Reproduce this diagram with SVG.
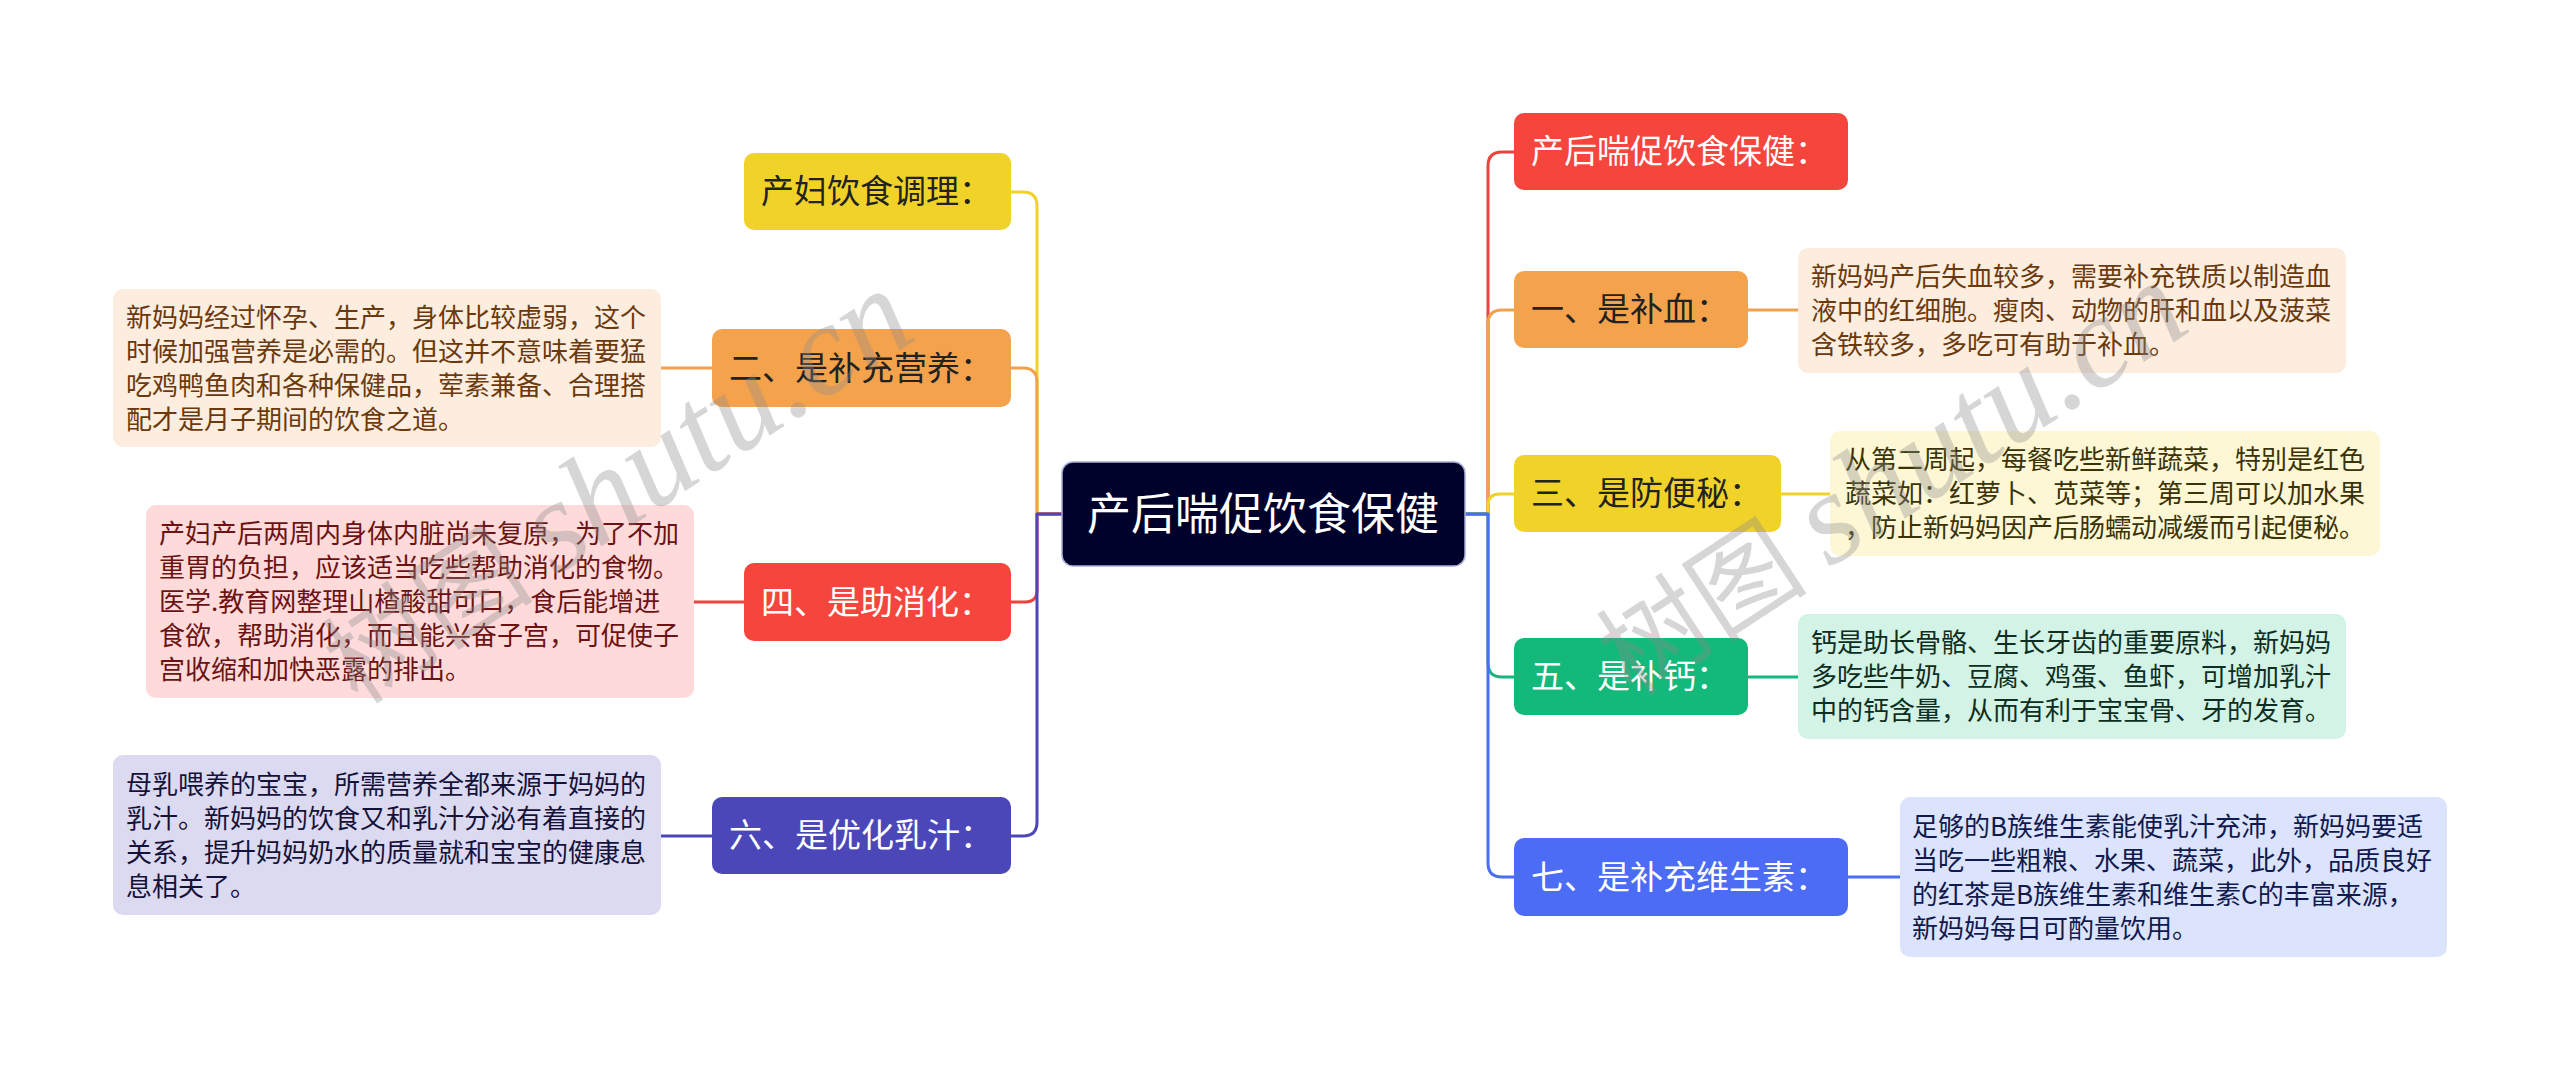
<svg xmlns="http://www.w3.org/2000/svg" width="2560" height="1069" viewBox="0 0 2560 1069">
<style>
text{font-family:"Noto Sans CJK SC","Noto Sans",sans-serif;}
.n{font-size:33px;}
.c{font-size:44px;fill:#ffffff;}
.t{font-size:26px;}
.dk{fill:#222222;}
.wt{fill:#ffffff;}
.ln{fill:none;stroke-width:3;stroke-linecap:round;stroke-linejoin:round;}
.wm{font-size:106px;fill:#8c8c8c;opacity:0.35;}
.wms{font-family:"Liberation Serif",serif;font-style:italic;font-size:130px;}
</style>
<rect width="2560" height="1069" fill="#ffffff"/>
<g id="connectors">
  <path class="ln" stroke="#F1D229" d="M1062,514 H1037 V206 Q1037,192 1023,192 H1011"/>
  <path class="ln" stroke="#F0A24F" d="M1062,514 H1037 V382 Q1037,368 1023,368 H1011"/>
  <path class="ln" stroke="#E9443E" d="M1062,514 H1037 V590 Q1037,602 1025,602 H1011"/>
  <path class="ln" stroke="#4B47B9" d="M1062,514 H1037 V822 Q1037,836 1023,836 H1011"/>
  <path class="ln" stroke="#F0A24F" d="M661,368 H712"/>
  <path class="ln" stroke="#E9443E" d="M694,602 H744"/>
  <path class="ln" stroke="#4B47B9" d="M661,836 H712"/>
  <path class="ln" stroke="#E9443E" d="M1465,514 H1488 V166 Q1488,152 1502,152 H1514"/>
  <path class="ln" stroke="#F0A24F" d="M1465,514 H1488 V324 Q1488,310 1502,310 H1514"/>
  <path class="ln" stroke="#F1D229" d="M1465,514 H1488 V505 Q1488,494 1500,494 H1514"/>
  <path class="ln" stroke="#13B87B" d="M1465,514 H1488 V663 Q1488,677 1502,677 H1514"/>
  <path class="ln" stroke="#4C6CF5" d="M1465,514 H1488 V863 Q1488,877 1502,877 H1514"/>
  <path class="ln" stroke="#F0A24F" d="M1748,310 H1798"/>
  <path class="ln" stroke="#F1D229" d="M1781,494 H1830"/>
  <path class="ln" stroke="#13B87B" d="M1748,677 H1798"/>
  <path class="ln" stroke="#4C6CF5" d="M1848,877 H1900"/>
</g>
<g id="center">
  <rect x="1062" y="462" width="403" height="104" rx="11" fill="#01022B" stroke="#aab0d6" stroke-width="1.5"/>
  <text class="c" x="1087" y="530">产后喘促饮食保健</text>
</g>
<g id="node-L0">
  <rect x="744" y="153" width="267" height="77" rx="10" fill="#F1D229"/>
  <text class="n dk" x="761" y="203">产妇饮食调理：</text>
</g>
<g id="node-L1">
  <rect x="712" y="329" width="299" height="78" rx="10" fill="#F5A24C"/>
  <text class="n dk" x="729" y="380">二、是补充营养：</text>
</g>
<g id="text-L1">
  <rect x="113" y="289" width="548" height="158" rx="10" fill="#FDEDDE"/>
  <text class="t" fill="#6A3A0E"><tspan x="126" y="327">新妈妈经过怀孕、生产，身体比较虚弱，这个</tspan><tspan x="126" y="361">时候加强营养是必需的。但这并不意味着要猛</tspan><tspan x="126" y="395">吃鸡鸭鱼肉和各种保健品，荤素兼备、合理搭</tspan><tspan x="126" y="429">配才是月子期间的饮食之道。</tspan></text>
</g>
<g id="node-L2">
  <rect x="744" y="563" width="267" height="78" rx="10" fill="#F5453D"/>
  <text class="n wt" x="761" y="614">四、是助消化：</text>
</g>
<g id="text-L2">
  <rect x="146" y="505" width="548" height="193" rx="10" fill="#FEDADA"/>
  <text class="t" fill="#6B1212"><tspan x="159" y="543">产妇产后两周内身体内脏尚未复原，为了不加</tspan><tspan x="159" y="577">重胃的负担，应该适当吃些帮助消化的食物。</tspan><tspan x="159" y="611">医学.教育网整理山楂酸甜可口，食后能增进</tspan><tspan x="159" y="645">食欲，帮助消化，而且能兴奋子宫，可促使子</tspan><tspan x="159" y="679">宫收缩和加快恶露的排出。</tspan></text>
</g>
<g id="node-L3">
  <rect x="712" y="797" width="299" height="77" rx="10" fill="#4B47B9"/>
  <text class="n wt" x="729" y="847">六、是优化乳汁：</text>
</g>
<g id="text-L3">
  <rect x="113" y="755" width="548" height="160" rx="10" fill="#DCDAF1"/>
  <text class="t" fill="#15123A"><tspan x="126" y="794">母乳喂养的宝宝，所需营养全都来源于妈妈的</tspan><tspan x="126" y="828">乳汁。新妈妈的饮食又和乳汁分泌有着直接的</tspan><tspan x="126" y="862">关系，提升妈妈奶水的质量就和宝宝的健康息</tspan><tspan x="126" y="896">息相关了。</tspan></text>
</g>
<g id="node-R0">
  <rect x="1514" y="113" width="334" height="77" rx="10" fill="#F5453D"/>
  <text class="n wt" x="1531" y="163">产后喘促饮食保健：</text>
</g>
<g id="node-R1">
  <rect x="1514" y="271" width="234" height="77" rx="10" fill="#F5A24C"/>
  <text class="n dk" x="1531" y="321">一、是补血：</text>
</g>
<g id="text-R1">
  <rect x="1798" y="248" width="548" height="125" rx="10" fill="#FDEDDE"/>
  <text class="t" fill="#6A3A0E"><tspan x="1811" y="286">新妈妈产后失血较多，需要补充铁质以制造血</tspan><tspan x="1811" y="320">液中的红细胞。瘦肉、动物的肝和血以及菠菜</tspan><tspan x="1811" y="354">含铁较多，多吃可有助于补血。</tspan></text>
</g>
<g id="node-R2">
  <rect x="1514" y="455" width="267" height="77" rx="10" fill="#F1D229"/>
  <text class="n dk" x="1531" y="505">三、是防便秘：</text>
</g>
<g id="text-R2">
  <rect x="1830" y="431" width="550" height="125" rx="10" fill="#FDF7D6"/>
  <text class="t" fill="#3A3306"><tspan x="1845" y="469">从第二周起，每餐吃些新鲜蔬菜，特别是红色</tspan><tspan x="1845" y="503">蔬菜如：红萝卜、苋菜等；第三周可以加水果</tspan><tspan x="1845" y="537">，防止新妈妈因产后肠蠕动减缓而引起便秘。</tspan></text>
</g>
<g id="node-R3">
  <rect x="1514" y="638" width="234" height="77" rx="10" fill="#13B87B"/>
  <text class="n wt" x="1531" y="688">五、是补钙：</text>
</g>
<g id="text-R3">
  <rect x="1798" y="614" width="548" height="125" rx="10" fill="#D2F3E5"/>
  <text class="t" fill="#0E2E22"><tspan x="1811" y="652">钙是助长骨骼、生长牙齿的重要原料，新妈妈</tspan><tspan x="1811" y="686">多吃些牛奶、豆腐、鸡蛋、鱼虾，可增加乳汁</tspan><tspan x="1811" y="720">中的钙含量，从而有利于宝宝骨、牙的发育。</tspan></text>
</g>
<g id="node-R4">
  <rect x="1514" y="838" width="334" height="78" rx="10" fill="#4C6CF5"/>
  <text class="n wt" x="1531" y="889">七、是补充维生素：</text>
</g>
<g id="text-R4">
  <rect x="1900" y="797" width="547" height="160" rx="10" fill="#DCE3FC"/>
  <text class="t" fill="#101A4E"><tspan x="1912" y="836">足够的B族维生素能使乳汁充沛，新妈妈要适</tspan><tspan x="1912" y="870">当吃一些粗粮、水果、蔬菜，此外，品质良好</tspan><tspan x="1912" y="904">的红茶是B族维生素和维生素C的丰富来源，</tspan><tspan x="1912" y="938">新妈妈每日可酌量饮用。</tspan></text>
</g>
<g id="watermark">
  <text class="wm" transform="translate(358,706) rotate(-33.3)">树图 <tspan class="wms">shutu.cn</tspan></text>
  <text class="wm" transform="translate(1632,698) rotate(-33.3)">树图 <tspan class="wms">shutu.cn</tspan></text>
</g>
</svg>
